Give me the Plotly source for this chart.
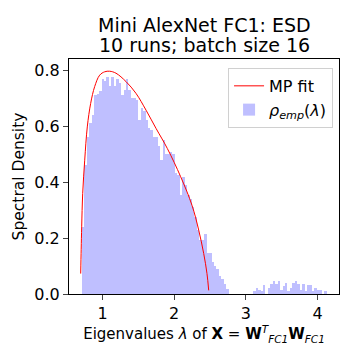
import plotly.graph_objects as go

# histogram of eigenvalues (100 bins)
BIN_START = 0.714
BIN_WIDTH = 0.0341
DENSITY = [
    0.24, 0.46, 0.56, 0.61, 0.64, 0.71, 0.715, 0.725, 0.77, 0.76,
    0.775, 0.745, 0.775, 0.745, 0.768, 0.753, 0.711, 0.729, 0.768, 0.729,
    0.70, 0.70, 0.695, 0.622, 0.663, 0.655, 0.622, 0.592, 0.586, 0.562,
    0.562, 0.529, 0.479, 0.55, 0.502, 0.502, 0.508, 0.50, 0.431, 0.425,
    0.353, 0.419, 0.389, 0.353, 0.341, 0.312, 0.276, 0.228, 0.192, 0.192,
    0.216, 0.147, 0.147, 0.115, 0.10, 0.09, 0.064, 0.055, 0.035, 0.018,
    0, 0, 0, 0, 0, 0, 0, 0, 0, 0,
    0.010, 0.023, 0.016, 0.010, 0.031, 0.0, 0.023, 0.037, 0.045, 0.037,
    0.045, 0.016, 0.030, 0.039, 0.010, 0.023, 0.039, 0.045, 0.037, 0.016,
    0.037, 0.010, 0.031, 0.031, 0.010, 0.023, 0.016, 0.016, 0.0, 0.010,
]

# Marchenko-Pastur fit curve
MP_X = [0.696, 0.703, 0.710, 0.724, 0.752, 0.788, 0.835, 0.891, 0.961, 1.031,
        1.10, 1.188, 1.328, 1.467, 1.607, 1.746, 1.904, 2.09, 2.248, 2.342,
        2.411, 2.457, 2.481]
MP_Y = [0.073, 0.16, 0.240, 0.359, 0.478, 0.597, 0.681, 0.741, 0.782, 0.794,
        0.796, 0.789, 0.759, 0.717, 0.657, 0.592, 0.52, 0.419, 0.317, 0.228,
        0.145, 0.073, 0.013]

X_TICKS = [1, 2, 3, 4]
Y_TICKS = [0.0, 0.2, 0.4, 0.6, 0.8]
TITLE_LINES = ["Mini AlexNet FC1: ESD", "10 runs; batch size 16"]

FONT = "DejaVu Sans"

fig = go.Figure()

fig.add_trace(go.Scatter(
    x=MP_X, y=MP_Y, mode="lines", name="MP fit",
    line=dict(color="red", width=1, shape="spline")))

fig.add_trace(go.Bar(
    x0=BIN_START + BIN_WIDTH / 2, dx=BIN_WIDTH, y=DENSITY, width=BIN_WIDTH,
    marker=dict(color="#bfbfff", line=dict(width=0)),
    name="<i>ρ</i><sub><i>emp</i></sub>(<i>λ</i>)"))

# page body has an 8px margin, so the figure is 352 wide and margins shrink by 8
fig.update_layout(
    width=352, height=352,
    margin=dict(l=61, r=21, t=51, b=66),
    plot_bgcolor="white", paper_bgcolor="white",
    font=dict(family=FONT, size=16, color="black"),
    bargap=0,
    legend=dict(x=0.978, y=0.962, xanchor="right", yanchor="top",
                bgcolor="white", bordercolor="#d0d0d0", borderwidth=1,
                font=dict(size=16)),
)

# two title lines, tighter line spacing than plotly's <br>
for line, ypos in zip(TITLE_LINES, [1.1447, 1.0596]):
    fig.add_annotation(text=line, xref="paper", yref="paper", x=0.5, y=ypos,
                       xanchor="center", yanchor="middle", showarrow=False,
                       font=dict(size=19))

fig.update_xaxes(
    range=[0.533, 4.298], tickvals=X_TICKS, ticks="outside", ticklen=5,
    showline=True, linecolor="black", linewidth=1, mirror=True,
    showgrid=False, zeroline=False, automargin=False,
    title=dict(text="Eigenvalues <i>λ</i> of <b>X</b> = <b>W</b><sup><i>T</i></sup>"
                    "<sub><i>FC1</i></sub><b>W</b><sub><i>FC1</i></sub>",
               standoff=1, font=dict(size=15)))

fig.update_yaxes(
    range=[0, 0.8397], tickvals=Y_TICKS, tickformat=".1f", ticks="outside",
    ticklen=5, showline=True, linecolor="black", linewidth=1, mirror=True,
    showgrid=False, zeroline=False, automargin=False,
    title=dict(text="Spectral Density", standoff=5, font=dict(size=15.5)))

fig.write_html("out.html")
